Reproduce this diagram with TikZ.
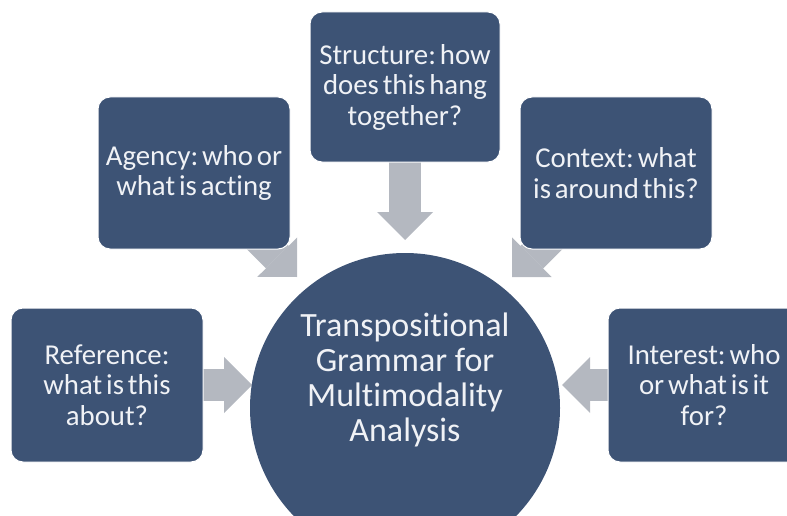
\documentclass[tikz,border=0pt]{standalone}
\usepackage{fontspec}
\setmainfont[Ligatures=NoCommon]{Carlito}
\newfontfamily\boxfont[Ligatures=NoCommon, WordSpace=0.6]{Carlito}
\usetikzlibrary{arrows.meta,backgrounds}
\definecolor{boxblue}{RGB}{61,83,117}
\definecolor{arrowgray}{RGB}{180,184,192}
\definecolor{textwhite}{RGB}{240,242,246}
\frenchspacing

\begin{document}
\begin{tikzpicture}[x=1pt, y=-1pt,
    qbox/.style={rectangle, rounded corners=12pt, fill=boxblue, draw=white, line width=1pt,
      text=textwhite, align=center, font=\boxfont\fontsize{28.8}{30.5}\selectfont,
      minimum width=192pt, minimum height=152pt, inner sep=0pt},
    core/.style={circle, fill=boxblue, minimum size=310pt, inner sep=0pt},
    coretext/.style={text=textwhite, align=center, font=\fontsize{34}{35}\selectfont},
    blockarrow/.style={draw=arrowgray, line width=32pt,
      -{Triangle[length=28pt, width=56pt, line width=0pt]}}]
        \useasboundingbox (0,0) rectangle (787,516);
        \clip (0,0) rectangle (787,516);
        \node[core] (grammar) at (405,408) {};
        \node[coretext] (grammartext) at (405,380) {Transpositional\\Grammar for\\Multimodality\\Analysis};
        \node[qbox, minimum width=190pt, minimum height=150pt] (structure) at (405,87) {Structure: how\\does this hang\\together?};
        \node[qbox] (agency) at (194,173) {Agency: who or\\what is acting};
        \node[qbox] (context) at (616,173) {Context: what\\is around this?};
        \node[qbox, minimum height=154pt] (reference) at (107,385) {Reference:\\what is this\\about?};
        \node[qbox, minimum height=154pt] (interest) at (704,385) {Interest: who\\or what is it\\for?};
        \coordinate (structuretip) at (405,240);
        \coordinate (agencytip) at (297,277);
        \coordinate (contexttip) at (512,277);
        \coordinate (referencetip) at (252,385);
        \coordinate (interesttip) at (562,385);
        \begin{scope}[on background layer]
          \foreach \from in {structure, agency, context, reference, interest}
          \draw[blockarrow] (\from.center) -- (\from tip);
        \end{scope}
      \end{tikzpicture}
\end{document}
